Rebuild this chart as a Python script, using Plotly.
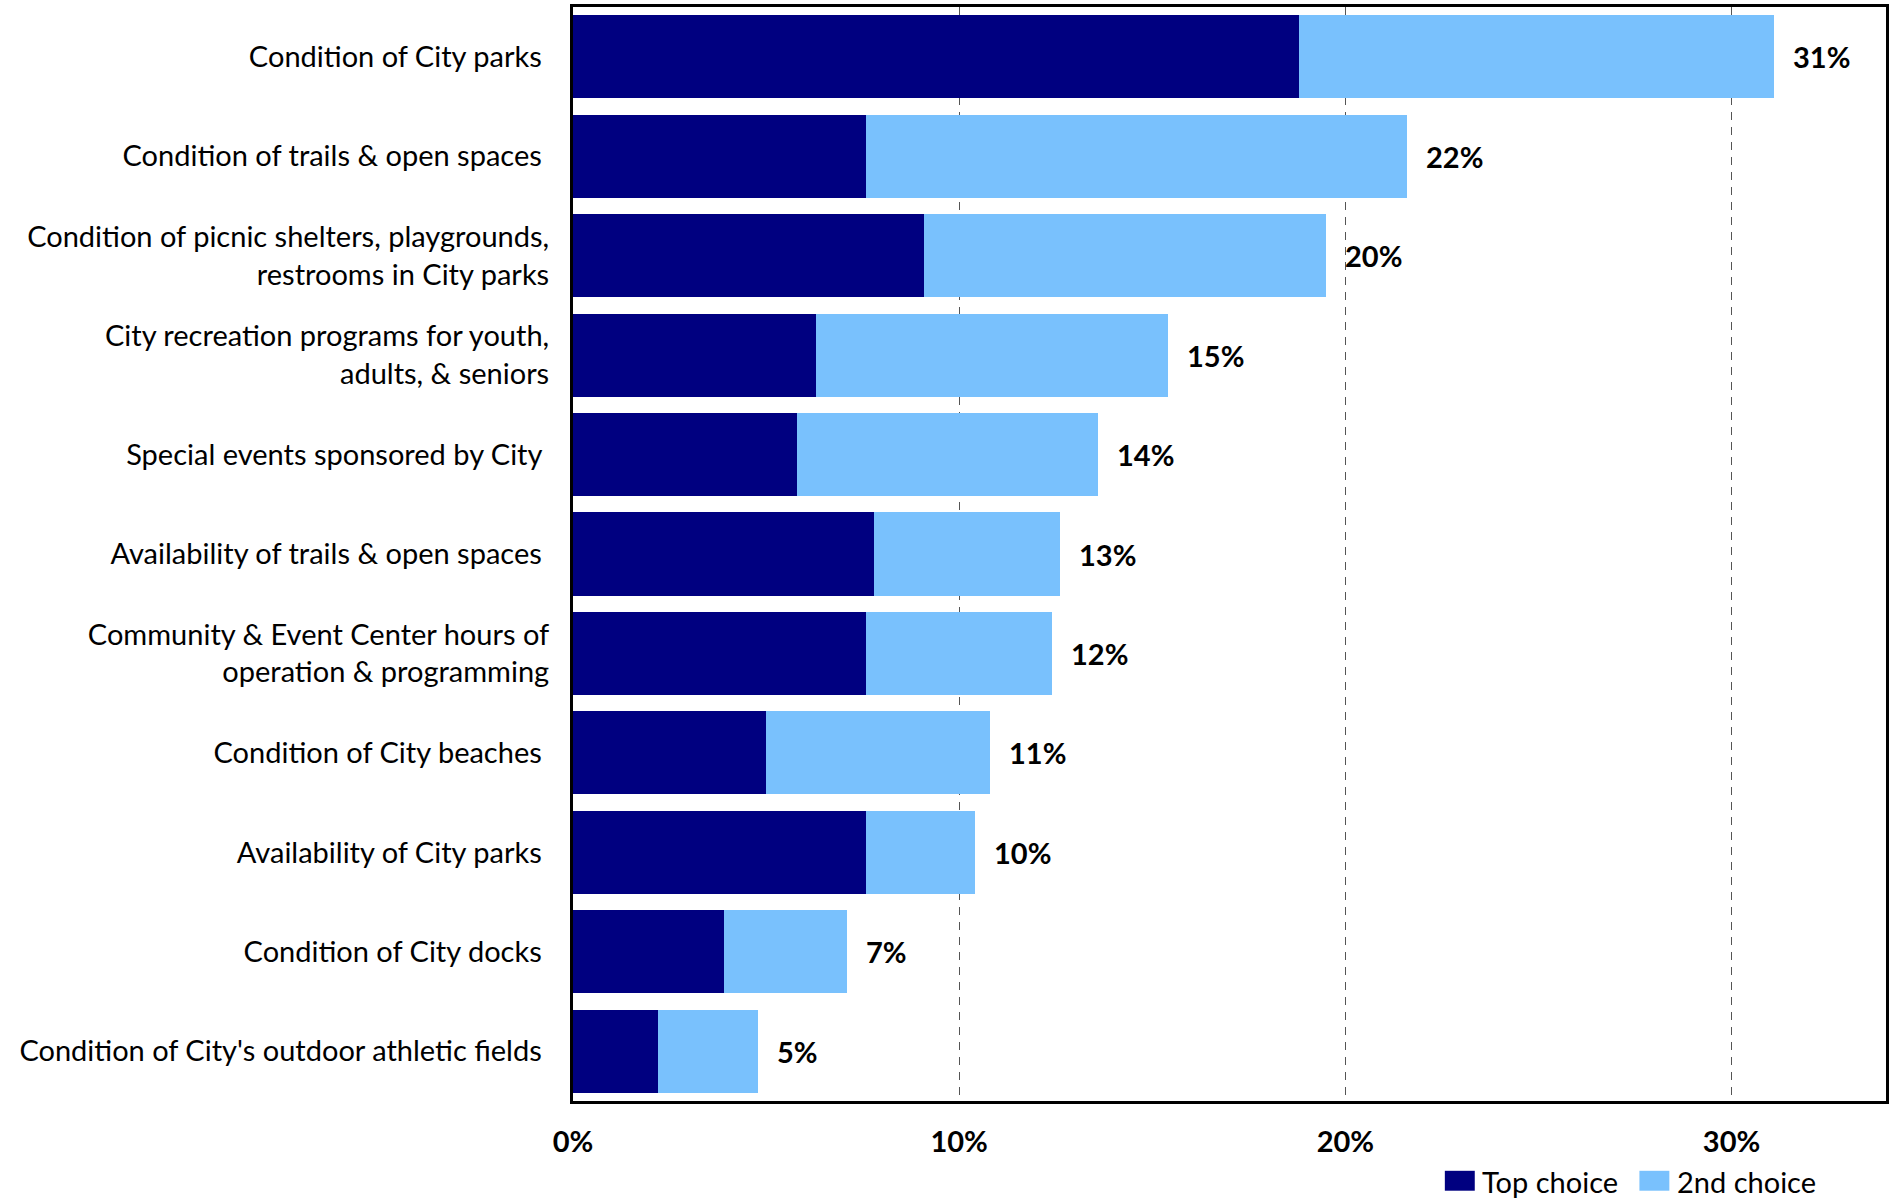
import plotly.graph_objects as go

categories = [
    "Condition of City parks ",
    "Condition of trails & open spaces ",
    "Condition of picnic shelters, playgrounds,<br>restrooms in City parks",
    "City recreation programs for youth,<br>adults, & seniors",
    "Special events sponsored by City ",
    "Availability of trails & open spaces ",
    "Community & Event Center hours of<br>operation & programming",
    "Condition of City beaches ",
    "Availability of City parks ",
    "Condition of City docks ",
    "Condition of City's outdoor athletic fields ",
]
top_choice = [18.8, 7.6, 9.1, 6.3, 5.8, 7.8, 7.6, 5.0, 7.6, 3.9, 2.2]
second_choice = [12.3, 14.0, 10.4, 9.1, 7.8, 4.8, 4.8, 5.8, 2.8, 3.2, 2.6]
total_labels = ["31%", "22%", "20%", "15%", "14%", "13%", "12%", "11%", "10%", "7%", "5%"]
x_tickvals = [0, 10, 20, 30]
x_ticktext = ["0%", "10%", "20%", "30%"]
series_names = ["Top choice", "2nd choice"]

DARK = "#000080"
LIGHT = "#79C1FD"
FONT = "Lato"

fig = go.Figure()
fig.add_trace(go.Bar(y=categories, x=top_choice, orientation="h", name=series_names[0],
                     marker=dict(color=DARK, line=dict(width=0)), showlegend=False))
fig.add_trace(go.Bar(y=categories, x=second_choice, orientation="h", name=series_names[1],
                     marker=dict(color=LIGHT, line=dict(width=0)), showlegend=False))

totals = [a + b for a, b in zip(top_choice, second_choice)]
for cat, tot, lab in zip(categories, totals, total_labels):
    fig.add_annotation(x=tot, y=cat, xref="x", yref="y", text=lab, showarrow=False,
                       xanchor="left", yanchor="middle", xshift=17,
                       font=dict(family=FONT, size=29, color="black", weight="bold"))

# legend (manual, bottom right)
legend_items = [(series_names[0], DARK, 0.6640), (series_names[1], LIGHT, 0.8122)]
for name, col, x0 in legend_items:
    fig.add_shape(type="rect", xref="paper", yref="paper", x0=x0, x1=x0 + 0.0228,
                  y0=-0.0820, y1=-0.0638, fillcolor=col, line=dict(width=0))
    fig.add_annotation(xref="paper", yref="paper", x=x0 + 0.0270, y=-0.0735, text=name,
                       showarrow=False, xanchor="left", yanchor="middle",
                       font=dict(family=FONT, size=29, color="black"))

fig.update_layout(
    width=1893, height=1198,
    barmode="stack", bargap=0.165,
    margin=dict(l=573, r=4, t=4, b=97),
    plot_bgcolor="white", paper_bgcolor="white",
    font=dict(family=FONT, size=29, color="black"),
    showlegend=False,
)
fig.update_xaxes(range=[0, 34], tickvals=x_tickvals, ticktext=x_ticktext,
                 tickfont=dict(family=FONT, size=29, color="black", weight="bold"),
                 showgrid=True, gridcolor="#555555", gridwidth=1.2, griddash="8px,7px",
                 zeroline=False, showline=True, mirror=True, linecolor="black", linewidth=3,
                 ticks="", ticklabelstandoff=13)
fig.update_yaxes(autorange="reversed", showgrid=False, zeroline=False,
                 showline=True, mirror=True, linecolor="black", linewidth=3,
                 ticks="", ticklabelstandoff=15,
                 tickfont=dict(family=FONT, size=29, color="black"))

fig.write_html("out.html", config={"displayModeBar": False},
               post_script="document.body.style.margin='0';document.body.style.overflow='hidden';")
